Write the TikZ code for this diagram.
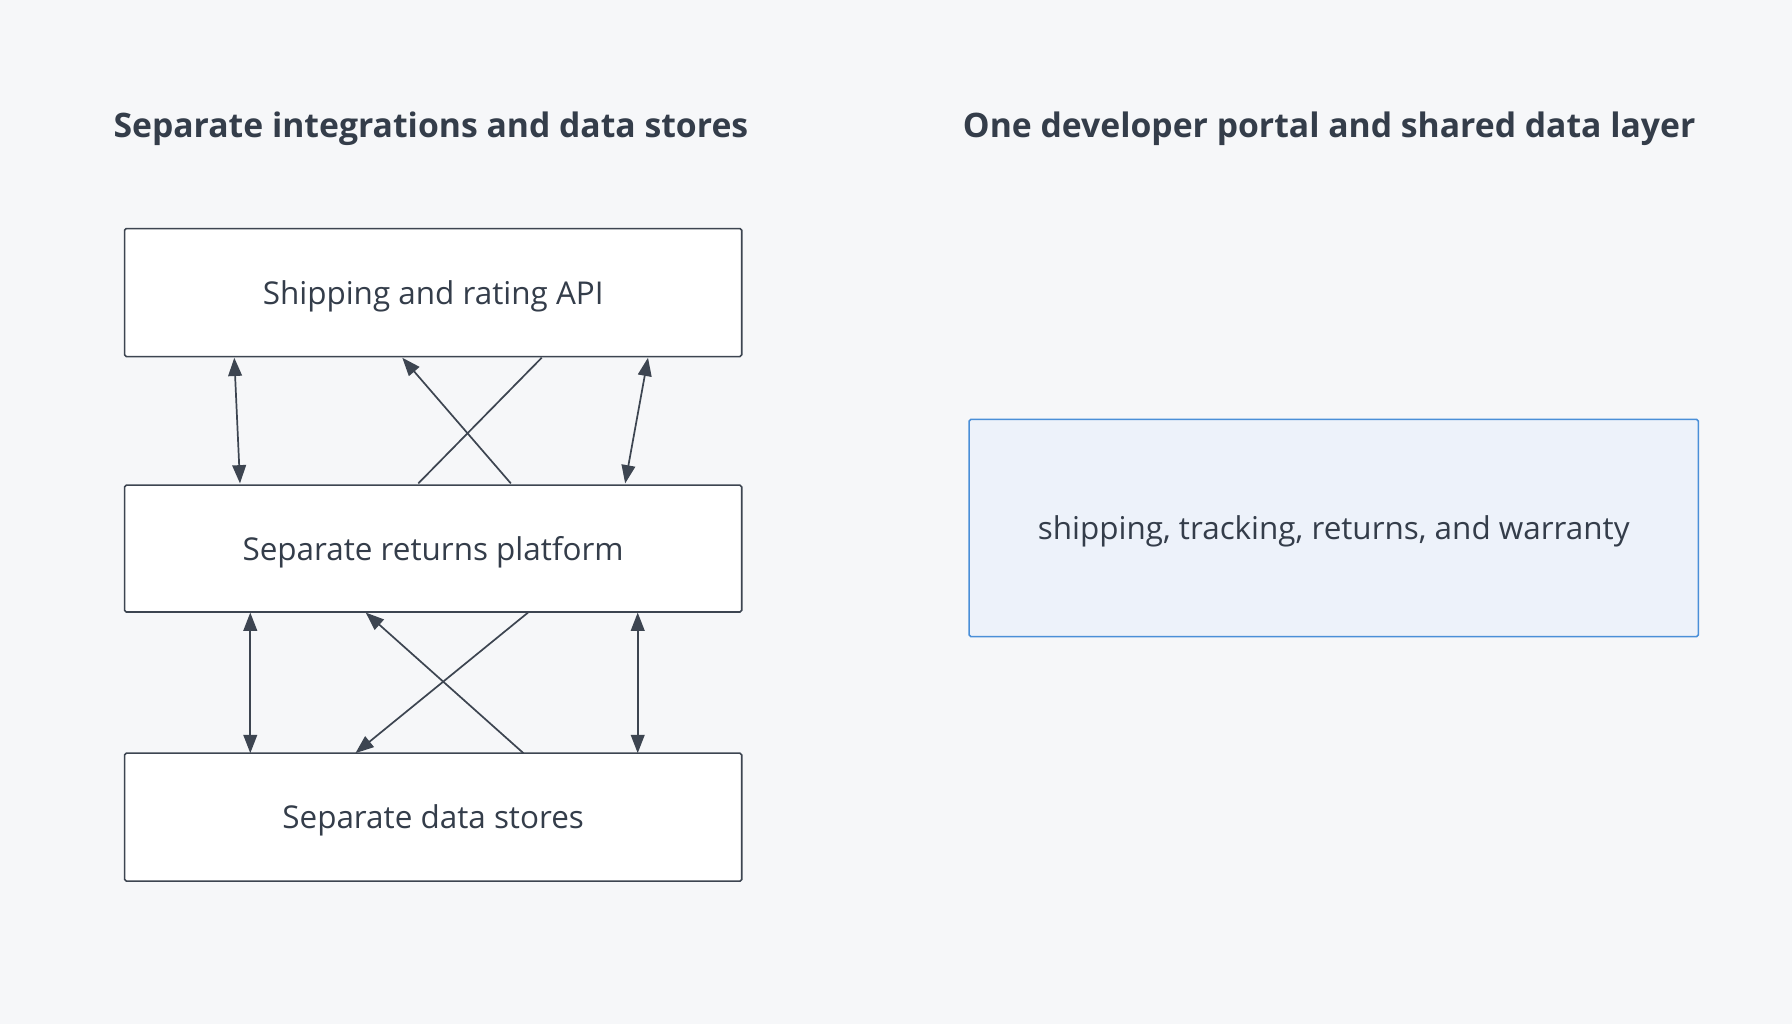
\documentclass[tikz,border=0pt]{standalone}
\usepackage{fontspec}
\setmainfont{Open Sans}
\usetikzlibrary{arrows.meta}
\definecolor{bg}{HTML}{F6F7F9}
\definecolor{ink}{HTML}{343D4A}
\definecolor{ln}{HTML}{3D4551}
\definecolor{bluef}{HTML}{EDF2FA}
\definecolor{blueb}{HTML}{4A8FD8}
\begin{document}
\begin{tikzpicture}[x=1pt,y=-1pt,
  box/.style={draw=ln,line width=1.4pt,fill=white,rounded corners=1.5pt,text=ink,font=\fontsize{27.5}{30}\selectfont,text depth=0pt,text height=20pt},
  head/.style={text=ink,font=\fontsize{29.5}{34}\selectfont\bfseries},
  con/.style={draw=ln,line width=1.5pt},
  tip/.style={-{Triangle[length=16pt,width=12pt]}},
  dtip/.style={{Triangle[length=16pt,width=12pt]}-{Triangle[length=16pt,width=12pt]}}]
\fill[bg] (0,0) rectangle (1568,896);
\useasboundingbox (0,0) rectangle (1568,896);
\node[head] (h1) at (377,113) {Separate integrations and data stores};
\node[head] (h2) at (1163,113) {One developer portal and shared data layer};
\node[box,minimum width=540,minimum height=112] (a) at (379,256) {Shipping and rating API};
\node[box,minimum width=540,minimum height=111] (b) at (379,480) {Separate returns platform};
\node[box,minimum width=540,minimum height=112] (c) at (379,715) {Separate data stores};
\node[box,draw=blueb,fill=bluef,minimum width=638,minimum height=190] (d) at (1167,462) {shipping, tracking, returns, and warranty};
\coordinate (a1) at (205,313); \coordinate (b1) at (210,423);
\coordinate (a2) at (474,313); \coordinate (b2) at (366,423);
\coordinate (a3) at (352,313); \coordinate (b3) at (447,423);
\coordinate (a4) at (567,313); \coordinate (b4) at (547,423);
\coordinate (b5) at (219,536); \coordinate (c5) at (219,659);
\coordinate (b6) at (462,536); \coordinate (c6) at (311,659);
\coordinate (b7) at (320,536); \coordinate (c7) at (458,659);
\coordinate (b8) at (558,536); \coordinate (c8) at (558,659);
\draw[con,dtip] (a1) -- (b1);
\draw[con] (b2) -- (a2);
\draw[con,tip] (b3) -- (a3);
\draw[con,dtip] (a4) -- (b4);
\draw[con,dtip] (b5) -- (c5);
\draw[con,tip] (b6) -- (c6);
\draw[con,tip] (c7) -- (b7);
\draw[con,dtip] (b8) -- (c8);
\end{tikzpicture}
\end{document}
